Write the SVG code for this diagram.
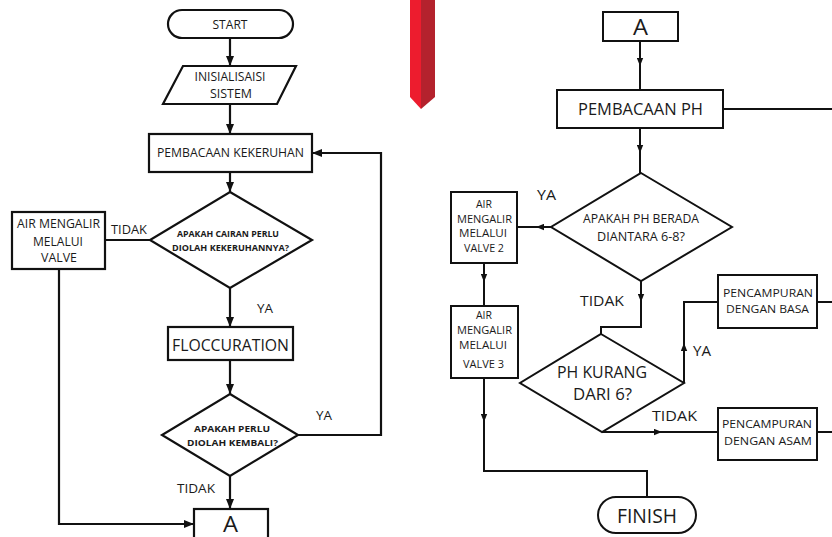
<svg xmlns="http://www.w3.org/2000/svg" width="832" height="537" viewBox="0 0 832 537">
<defs>
<style>
.s{fill:#fff;stroke:#111;stroke-width:2.2}
.r{fill:#fff;stroke:#111;stroke-width:2}
.c{fill:none;stroke:#111;stroke-width:2.2}
.cr{fill:none;stroke:#111;stroke-width:2}
text{font-family:"Open Sans","Liberation Sans",sans-serif;fill:#1a1a1a;text-anchor:middle}
.b{font-weight:bold}
</style>
<marker id="ah" viewBox="0 0 10 8" refX="10" refY="4" markerWidth="10" markerHeight="8" markerUnits="userSpaceOnUse" orient="auto"><path d="M0,0 L10,4 L0,8 z" fill="#111"/></marker>
<marker id="am" viewBox="0 0 10 8" refX="10" refY="4" markerWidth="8" markerHeight="7" markerUnits="userSpaceOnUse" orient="auto"><path d="M0,0 L10,4 L0,8 z" fill="#111"/></marker>
</defs>
<rect width="832" height="537" fill="#fff"/>

<g id="ribbon">
<polygon points="410,0 421,0 421,109 410,97" fill="#ED1C2E"/>
<polygon points="421,0 435,0 435,97 421,109" fill="#B4222D"/>
</g>

<g id="connectors">
<line class="c" x1="230" y1="38" x2="230" y2="66" marker-end="url(#ah)"/>
<line class="c" x1="230" y1="104" x2="230" y2="134" marker-end="url(#ah)"/>
<line class="c" x1="230" y1="172" x2="230" y2="192" marker-end="url(#ah)"/>
<line class="c" x1="230" y1="288" x2="230" y2="327" marker-end="url(#ah)"/>
<line class="c" x1="230" y1="360" x2="230" y2="394" marker-end="url(#ah)"/>
<line class="c" x1="230" y1="476" x2="230" y2="509" marker-end="url(#ah)"/>
<path class="c" d="M298,435 H381 V153 H312" marker-end="url(#ah)"/>
<path class="c" d="M150,240 H105"/>
<path class="c" d="M59,269 V524 H194" marker-end="url(#ah)"/>

<line class="cr" x1="640" y1="41" x2="640" y2="66" marker-end="url(#am)"/>
<line class="cr" x1="640" y1="64" x2="640" y2="90"/>
<line class="cr" x1="640" y1="128" x2="640" y2="153" marker-end="url(#am)"/>
<line class="cr" x1="640" y1="151" x2="640" y2="173"/>
<line class="cr" x1="551" y1="227" x2="536" y2="227" marker-end="url(#am)"/>
<line class="cr" x1="538" y1="227" x2="517" y2="227"/>
<line class="cr" x1="484" y1="263" x2="484" y2="282" marker-end="url(#am)"/>
<line class="cr" x1="484" y1="280" x2="484" y2="306"/>
<line class="cr" x1="484" y1="378" x2="484" y2="422" marker-end="url(#am)"/>
<path class="cr" d="M484,420 V471 H647 V497"/>
<line class="cr" x1="641" y1="281" x2="641" y2="302" marker-end="url(#am)"/>
<path class="cr" d="M641,300 V327 H601 V334"/>
<line class="cr" x1="684" y1="383" x2="684" y2="343" marker-end="url(#am)"/>
<path class="cr" d="M684,345 V302 H718"/>
<line class="cr" x1="602" y1="432" x2="662" y2="432" marker-end="url(#am)"/>
<line class="cr" x1="660" y1="432" x2="718" y2="432"/>
<path class="cr" d="M723,109 H832"/>
<path class="cr" d="M817,302 H832"/>
<path class="cr" d="M817,432 H832"/>
</g>

<g id="start">
<rect class="s" x="168" y="10" width="125" height="28" rx="14"/>
<text x="230" y="29" font-size="12" textLength="35" lengthAdjust="spacingAndGlyphs">START</text>
</g>
<g id="init">
<polygon class="s" points="183,66 296,66 277,104 163,104"/>
<text x="230" y="81" font-size="12" textLength="71" lengthAdjust="spacingAndGlyphs">INISIALISAISI</text>
<text x="231" y="98" font-size="12" textLength="42" lengthAdjust="spacingAndGlyphs">SISTEM</text>
</g>
<g id="baca-keruh">
<rect class="s" x="149" y="134" width="163" height="38"/>
<text x="230.5" y="157" font-size="12.5" textLength="147" lengthAdjust="spacingAndGlyphs">PEMBACAAN KEKERUHAN</text>
</g>
<g id="dec-cairan">
<polygon class="s" points="230,192 312,240 230,288 150,240"/>
<text class="b" x="228" y="237" font-size="8" textLength="102" lengthAdjust="spacingAndGlyphs">APAKAH CAIRAN PERLU</text>
<text class="b" x="230.5" y="251" font-size="8" textLength="117" lengthAdjust="spacingAndGlyphs">DIOLAH KEKERUHANNYA?</text>
</g>
<g id="valve">
<rect class="s" x="12" y="212" width="93" height="57"/>
<text x="58.5" y="228" font-size="12" textLength="83" lengthAdjust="spacingAndGlyphs">AIR MENGALIR</text>
<text x="58" y="246" font-size="12" textLength="50" lengthAdjust="spacingAndGlyphs">MELALUI</text>
<text x="59" y="262" font-size="12" textLength="36" lengthAdjust="spacingAndGlyphs">VALVE</text>
</g>
<g id="floc">
<rect class="s" x="168" y="327" width="125" height="33"/>
<text x="230.5" y="351" font-size="17" textLength="117" lengthAdjust="spacingAndGlyphs">FLOCCURATION</text>
</g>
<g id="dec-kembali">
<polygon class="s" points="230,394 298,435 230,476 162,435"/>
<text class="b" x="232" y="432" font-size="8" textLength="76" lengthAdjust="spacingAndGlyphs">APAKAH PERLU</text>
<text class="b" x="232.5" y="446" font-size="8" textLength="91" lengthAdjust="spacingAndGlyphs">DIOLAH KEMBALI?</text>
</g>
<g id="a-left">
<rect class="s" x="194" y="509" width="74" height="40"/>
<text x="230.5" y="532" font-size="21" textLength="15" lengthAdjust="spacingAndGlyphs">A</text>
</g>
<g id="labels-left">
<text x="129" y="234" font-size="12" textLength="36" lengthAdjust="spacingAndGlyphs">TIDAK</text>
<text x="265" y="313" font-size="12" textLength="16" lengthAdjust="spacingAndGlyphs">YA</text>
<text x="324" y="420" font-size="12" textLength="16" lengthAdjust="spacingAndGlyphs">YA</text>
<text x="196" y="493" font-size="12" textLength="38" lengthAdjust="spacingAndGlyphs">TIDAK</text>
</g>

<g id="a-right">
<rect class="r" x="603" y="12" width="75" height="29"/>
<text x="640.5" y="35" font-size="22" textLength="15" lengthAdjust="spacingAndGlyphs">A</text>
</g>
<g id="baca-ph">
<rect class="r" x="557" y="90" width="166" height="38"/>
<text x="640.5" y="115" font-size="16" textLength="125" lengthAdjust="spacingAndGlyphs">PEMBACAAN PH</text>
</g>
<g id="dec-ph">
<polygon class="r" points="641,173 732,227 641,281 551,227"/>
<text x="641" y="223" font-size="13" textLength="116" lengthAdjust="spacingAndGlyphs">APAKAH PH BERADA</text>
<text x="641" y="241" font-size="13" textLength="88" lengthAdjust="spacingAndGlyphs">DIANTARA 6-8?</text>
</g>
<g id="valve2">
<rect class="r" x="451" y="192" width="66" height="71"/>
<text x="484" y="208" font-size="10.5" textLength="16" lengthAdjust="spacingAndGlyphs">AIR</text>
<text x="484.5" y="223" font-size="10.5" textLength="55" lengthAdjust="spacingAndGlyphs">MENGALIR</text>
<text x="483" y="237" font-size="10.5" textLength="48" lengthAdjust="spacingAndGlyphs">MELALUI</text>
<text x="484" y="252" font-size="10.5" textLength="40" lengthAdjust="spacingAndGlyphs">VALVE 2</text>
</g>
<g id="valve3">
<rect class="r" x="451" y="306" width="67" height="72"/>
<text x="484" y="319" font-size="10.5" textLength="16" lengthAdjust="spacingAndGlyphs">AIR</text>
<text x="484.5" y="334" font-size="10.5" textLength="55" lengthAdjust="spacingAndGlyphs">MENGALIR</text>
<text x="483" y="349" font-size="10.5" textLength="48" lengthAdjust="spacingAndGlyphs">MELALUI</text>
<text x="483.5" y="368" font-size="10.5" textLength="41" lengthAdjust="spacingAndGlyphs">VALVE 3</text>
</g>
<g id="dec-kurang">
<polygon class="r" points="601,334 684,383 602,432 520,383"/>
<text x="602" y="378" font-size="16.5" textLength="90" lengthAdjust="spacingAndGlyphs">PH KURANG</text>
<text x="602.5" y="400" font-size="16.5" textLength="59" lengthAdjust="spacingAndGlyphs">DARI 6?</text>
</g>
<g id="basa">
<rect class="r" x="718" y="275" width="99" height="53"/>
<text x="768" y="297" font-size="11" textLength="90" lengthAdjust="spacingAndGlyphs">PENCAMPURAN</text>
<text x="767.5" y="313" font-size="11" textLength="83" lengthAdjust="spacingAndGlyphs">DENGAN BASA</text>
</g>
<g id="asam">
<rect class="r" x="718" y="408" width="99" height="52"/>
<text x="767" y="428" font-size="11.5" textLength="90" lengthAdjust="spacingAndGlyphs">PENCAMPURAN</text>
<text x="768" y="445" font-size="11.5" textLength="88" lengthAdjust="spacingAndGlyphs">DENGAN ASAM</text>
</g>
<g id="finish">
<rect class="r" x="598" y="497" width="98" height="36" rx="18"/>
<text x="647" y="523" font-size="20.5" textLength="60" lengthAdjust="spacingAndGlyphs">FINISH</text>
</g>
<g id="labels-right">
<text x="546.5" y="200" font-size="14" textLength="19" lengthAdjust="spacingAndGlyphs">YA</text>
<text x="602" y="306" font-size="14" textLength="44" lengthAdjust="spacingAndGlyphs">TIDAK</text>
<text x="702" y="356" font-size="14" textLength="18" lengthAdjust="spacingAndGlyphs">YA</text>
<text x="674.5" y="421" font-size="14" textLength="45" lengthAdjust="spacingAndGlyphs">TIDAK</text>
</g>
</svg>
